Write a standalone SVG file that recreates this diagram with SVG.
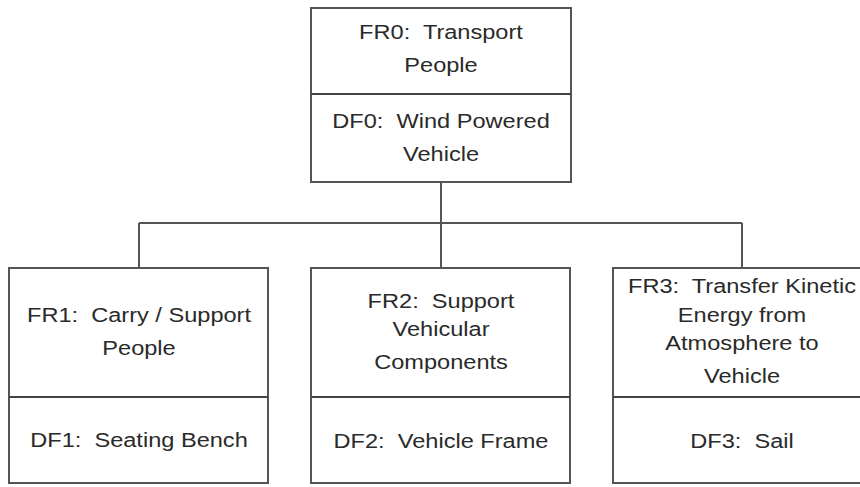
<svg xmlns="http://www.w3.org/2000/svg" width="860" height="487" viewBox="0 0 860 487">
<style>
.box{fill:#fff;stroke:#555;stroke-width:2}
.div{stroke:#444;stroke-width:2}
.con{fill:none;stroke:#555;stroke-width:2}
text{font-family:"Liberation Sans",Arial,sans-serif;font-size:19.5px;fill:#2a2a2a;text-anchor:middle;white-space:pre}
</style>
<rect width="860" height="487" fill="#fff"/>
<g id="connectors">
<path class="con" d="M441,182 V223 M139,223 H742 M139,223 V268 M441,223 V268 M742,223 V268"/>
</g>
<g id="node0">
<rect class="box" x="311" y="8" width="260" height="174"/>
<line class="div" x1="311" y1="94" x2="571" y2="94"/>
<text xml:space="preserve" transform="translate(441,39) scale(1.21,1)">FR0:  Transport</text>
<text transform="translate(441,72) scale(1.21,1)">People</text>
<text xml:space="preserve" transform="translate(441,128) scale(1.21,1)">DF0:  Wind Powered</text>
<text transform="translate(441,161) scale(1.21,1)">Vehicle</text>
</g>
<g id="node1">
<rect class="box" x="9" y="268" width="259" height="215"/>
<line class="div" x1="9" y1="397" x2="268" y2="397"/>
<text xml:space="preserve" transform="translate(139,322) scale(1.21,1)">FR1:  Carry / Support</text>
<text transform="translate(139,355) scale(1.21,1)">People</text>
<text xml:space="preserve" transform="translate(139,447) scale(1.21,1)">DF1:  Seating Bench</text>
</g>
<g id="node2">
<rect class="box" x="311" y="268" width="259" height="215"/>
<line class="div" x1="311" y1="397" x2="570" y2="397"/>
<text xml:space="preserve" transform="translate(441,308) scale(1.21,1)">FR2:  Support</text>
<text transform="translate(441,336) scale(1.21,1)">Vehicular</text>
<text transform="translate(441,369) scale(1.21,1)">Components</text>
<text xml:space="preserve" transform="translate(441,448) scale(1.21,1)">DF2:  Vehicle Frame</text>
</g>
<g id="node3">
<rect class="box" x="613" y="268" width="260" height="215"/>
<line class="div" x1="613" y1="397" x2="873" y2="397"/>
<text xml:space="preserve" transform="translate(742,293) scale(1.21,1)">FR3:  Transfer Kinetic</text>
<text transform="translate(742,322) scale(1.21,1)">Energy from</text>
<text transform="translate(742,350) scale(1.21,1)">Atmosphere to</text>
<text transform="translate(742,383) scale(1.21,1)">Vehicle</text>
<text xml:space="preserve" transform="translate(742,448) scale(1.21,1)">DF3:  Sail</text>
</g>
</svg>
